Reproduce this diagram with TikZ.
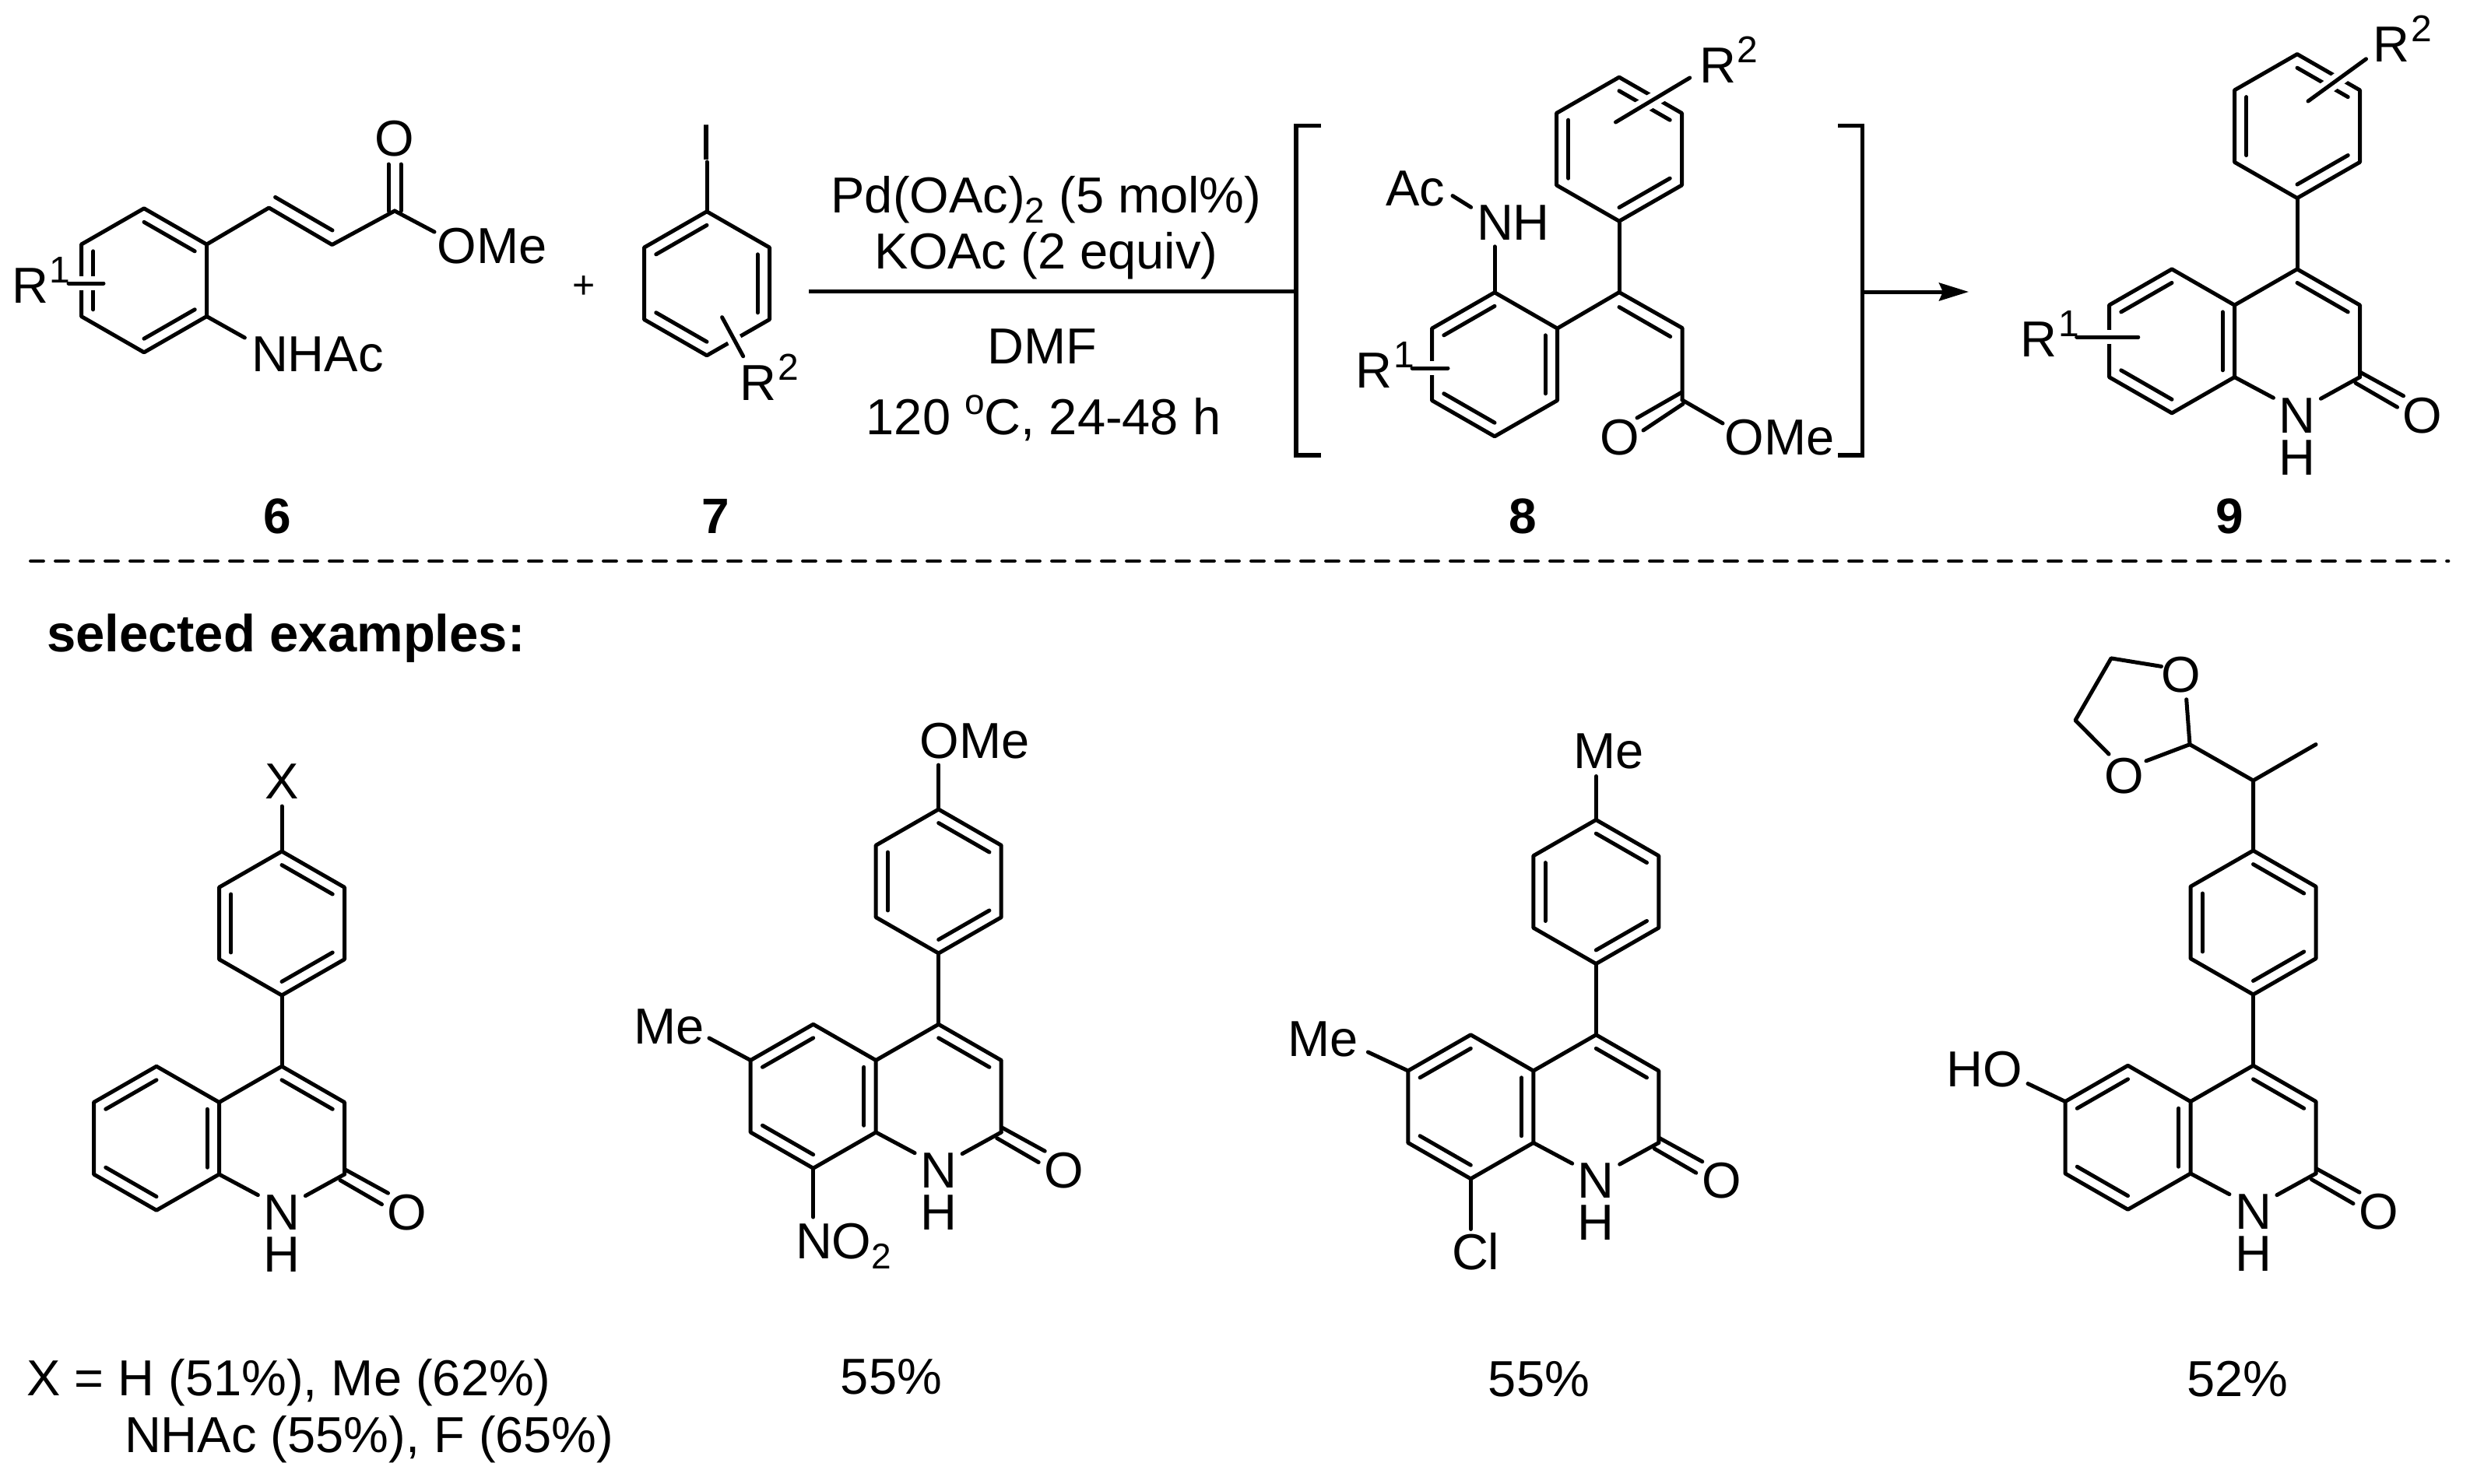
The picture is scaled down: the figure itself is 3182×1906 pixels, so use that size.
\documentclass[tikz,border=0pt]{standalone}
\usepackage{fontspec}
\setmainfont{Liberation Sans}
\usetikzlibrary{calc,arrows.meta}
\tikzset{
  bondl/.style={draw=black,line width=5pt,line cap=round,line join=round},
  halo/.style={draw=white,line width=18pt,line cap=butt},
  lab/.style={inner sep=0pt,outer sep=0pt,font=\fontsize{65}{65}\selectfont,text=black},
  labw/.style={lab,anchor=base west},
  labc/.style={lab,anchor=base},
  numb/.style={lab,anchor=base,font=\fontsize{64}{64}\selectfont\bfseries},
  sepdash/.style={draw=black,line width=4.8pt,line cap=round,dash pattern=on 16pt off 16pt},
  brk/.style={draw=black,line width=5.5pt,line cap=butt,line join=miter},
  rxn/.style={draw=black,line width=5pt}
}
\newcommand\supn[1]{\kern2pt\raisebox{26pt}{\fontsize{48}{48}\selectfont #1}}
\newcommand\subn[1]{\raisebox{-13pt}{\fontsize{46}{46}\selectfont #1}}
\newcommand\atw[4]{\node[labw] (#1) at (#2,#3) {#4};}
\newcommand\atc[4]{\node[labc] (#1) at (#2,#3) {#4};}
% hexagon vertices: T UR LR B LL UL, centre O
\newcommand\hexat[3]{%
  \coordinate (#1O) at (#2,#3);
  \coordinate (#1T) at ($(#1O)+(0,-92.5)$);
  \coordinate (#1UR) at ($(#1O)+(80.5,-46.25)$);
  \coordinate (#1LR) at ($(#1O)+(80.5,46.25)$);
  \coordinate (#1B) at ($(#1O)+(0,92.5)$);
  \coordinate (#1LL) at ($(#1O)+(-80.5,46.25)$);
  \coordinate (#1UL) at ($(#1O)+(-80.5,-46.25)$);}
\newcommand\hexdraw[1]{\draw[bondl] (#1T) -- (#1UR) -- (#1LR) -- (#1B) -- (#1LL) -- (#1UL) -- cycle;}
\newcommand\inr[3]{\draw[bondl] ($(#2)!.19!(#1O)$) -- ($(#3)!.19!(#1O)$);}
% aryl-quinolinone, C4 at (x,y)
\newcommand\quinol[3]{%
  \hexat{#1p}{#2}{#3-184.5}
  \hexat{#1a}{#2}{#3+91.75}
  \hexat{#1b}{#2-161}{#3+91.75}
  \hexdraw{#1p}\hexdraw{#1b}
  \inr{#1p}{#1pT}{#1pUR}\inr{#1p}{#1pUL}{#1pLL}\inr{#1p}{#1pLR}{#1pB}
  \inr{#1b}{#1bT}{#1bUL}\inr{#1b}{#1bLL}{#1bB}\inr{#1b}{#1bUR}{#1bLR}
  \inr{#1a}{#1aT}{#1aUR}
  \draw[bondl] (#1pB) -- (#1aT);
  \draw[bondl] (#1aUL) -- (#1aT) -- (#1aUR) -- (#1aLR);
  \coordinate (#1Ne) at ($(#1aT)+(-30.6,165.4)$);
  \coordinate (#1Nf) at ($(#1aT)+(30.4,166.4)$);
  \draw[bondl] (#1aLL) -- (#1Ne);
  \draw[bondl] (#1aLR) -- (#1Nf);
  \draw[bondl] ($(#1aLR)+(1,-6)$) -- ($(#1aLR)+(56,24.2)$);
  \draw[bondl] ($(#1aLR)+(-5.5,7.6)$) -- ($(#1aLR)+(48,38.6)$);
  \atc{#1N}{#2}{#3+209.4}{N}
  \atc{#1H}{#2}{#3+263.4}{H}
  \atc{#1Ox}{#2+161}{#3+209.4}{O}
}
\begin{document}
\begin{tikzpicture}[x=1pt,y=-1pt]
\useasboundingbox (0,0) rectangle (3182,1906);
\fill[white] (0,0) rectangle (3182,1906);

%% compound 6
\hexat{f}{185}{360.3}
\hexdraw{f}
\inr{f}{fT}{fUR}\inr{f}{fUL}{fLL}\inr{f}{fLR}{fB}
\coordinate (fa) at (88,364); \coordinate (fb) at (133,364);
\draw[halo] (fa) -- (fb);
\draw[bondl] (fa) -- (fb);
\coordinate (fC1) at (345.5,267); \coordinate (fC2) at (426.6,314.5); \coordinate (fC3) at (507,271);
\draw[bondl] (fUR) -- (fC1) -- (fC2) -- (fC3);
\draw[bondl] (353.6,253.4) -- (427,296);
\coordinate (fOe) at (507,211);
\draw[bondl] ($(fC3)+(-8,0)$) -- ($(fOe)+(-8,0)$);
\draw[bondl] ($(fC3)+(8,0)$) -- ($(fOe)+(8,0)$);
\coordinate (fMe) at (558,298);
\draw[bondl] (fC3) -- (fMe);
\coordinate (fNe) at (314.4,434);
\draw[bondl] (fLR) -- (fNe);
\atc{fO}{507}{200}{O}
\atw{fOMe}{561.6}{338.5}{OMe}
\atw{fNH}{323}{477.5}{NHAc}
\atw{fR}{15}{389}{R\supn{1}}
\node[numb] (n6) at (356,685) {6};

%% plus
\node[lab,anchor=center,font=\fontsize{50}{50}\selectfont] (plus) at (750.5,368.7) {+};

%% compound 7
\hexat{s}{908}{364.3}
\hexdraw{s}
\inr{s}{sT}{sUL}\inr{s}{sUR}{sLR}\inr{s}{sLL}{sB}
\coordinate (sa) at (927.6,407.7); \coordinate (sb) at (954.7,457.8);
\draw[halo] (sa) -- (sb);
\draw[bondl] (sa) -- (sb);
\coordinate (sIe) at (908,208);
\draw[bondl] (sT) -- (sIe);
\atc{sI}{908}{205}{I}
\atw{sR}{950.7}{514}{R\supn{2}}
\node[numb] (n7) at (919.6,685) {7};

%% conditions
\coordinate (ra) at (1039,374); \coordinate (rb) at (1665,374);
\draw[rxn] (ra) -- (rb);
\atc{c1}{1344}{273}{Pd(OAc)\subn{2} (5 mol\%)}
\atc{c2}{1344}{345}{KOAc (2 equiv)}
\atc{c3}{1339}{467.4}{DMF}
\atc{c4}{1340.6}{558}{120 \raisebox{26pt}{\fontsize{46}{46}\selectfont o}C, 24-48 h}

%% brackets
\coordinate (bl1) at (1697,161.6); \coordinate (bl2) at (1665,161.6);
\coordinate (bl3) at (1665,585); \coordinate (bl4) at (1697,585);
\draw[brk] (bl1) -- (bl2) -- (bl3) -- (bl4);
\coordinate (br1) at (2361,161.6); \coordinate (br2) at (2392.5,161.6);
\coordinate (br3) at (2392.5,585); \coordinate (br4) at (2361,585);
\draw[brk] (br1) -- (br2) -- (br3) -- (br4);
\coordinate (aa) at (2392.5,375); \coordinate (ab) at (2529,375);
\draw[rxn,-{Stealth[length=38pt,width=23pt,inset=5pt]}] (aa) -- (ab);

%% compound 8
\hexat{u}{2080}{191.7}
\hexat{l}{1920}{468.3}
\hexdraw{u}\hexdraw{l}
\inr{u}{uT}{uUR}\inr{u}{uUL}{uLL}\inr{u}{uLR}{uB}
\inr{l}{lT}{lUL}\inr{l}{lUR}{lLR}\inr{l}{lLL}{lB}
\coordinate (ua) at (2170.7,100); \coordinate (ub) at (2075.5,157);
\draw[halo] (ua) -- (ub);
\draw[bondl] (ua) -- (ub);
\coordinate (la) at (1814,473); \coordinate (lb) at (1860,473);
\draw[halo] (la) -- (lb);
\draw[bondl] (la) -- (lb);
\coordinate (eV) at (2080,375.6); \coordinate (eCH) at (2161,421.5); \coordinate (eCO) at (2161,514);
\draw[bondl] (uB) -- (eV);
\draw[bondl] (lUR) -- (eV) -- (eCH) -- (eCO);
\draw[bondl] ($(eV)+(0,19)$) -- ($(eCH)+(-15.3,11)$);
\coordinate (eO1) at (2103,537); \coordinate (eO2) at (2111,553);
\draw[bondl] (2160.6,504) -- (eO1);
\draw[bondl] (2162,519) -- (eO2);
\coordinate (eMe) at (2213,544);
\draw[bondl] (eCO) -- (eMe);
\coordinate (eNe) at (1920,316.8);
\draw[bondl] (lT) -- (eNe);
\coordinate (eA1) at (1866,251.6); \coordinate (eA2) at (1889.6,266.3);
\draw[bondl] (eA1) -- (eA2);
\atw{eNH}{1897}{308.5}{NH}
\atw{eAc}{1780}{264}{Ac}
\atc{eO}{2081}{584}{O}
\atw{eOMe}{2215.7}{584}{OMe}
\atw{eR1}{1741.6}{498}{R\supn{1}}
\atw{eR2}{2183}{106.5}{R\supn{2}}
\node[numb] (n8) at (1956,685) {8};

%% compound 9
\quinol{m}{2951}{346.6}
\coordinate (ma) at (3039.5,75.8); \coordinate (mb) at (2965,130);
\draw[halo] (ma) -- (mb);
\draw[bondl] (ma) -- (mb);
\coordinate (mc) at (2667.7,433); \coordinate (md) at (2746.8,433);
\draw[halo] (mc) -- (md);
\draw[bondl] (mc) -- (md);
\atw{mR1}{2595.3}{458}{R\supn{1}}
\atw{mR2}{3048.3}{79}{R\supn{2}}
\node[numb] (n9) at (2864,685) {9};

%% separator
\coordinate (da) at (39.5,721); \coordinate (db) at (3145,721);
\draw[sepdash] (da) -- (db);
\node[labw,font=\fontsize{67}{67}\selectfont\bfseries] (sel) at (60,837) {selected examples:};

%% example A
\quinol{A}{362}{1371}
\coordinate (Ax) at (362,1036);
\draw[bondl] (ApT) -- (Ax);
\atc{AX}{362}{1026}{X}
\atw{Ay1}{34}{1793.5}{X = H (51\%), Me (62\%)}
\atw{Ay2}{160}{1866.6}{NHAc (55\%), F (65\%)}

%% example B
\quinol{B}{1205.7}{1317}
\coordinate (Bx) at (1205.7,983);
\draw[bondl] (BpT) -- (Bx);
\coordinate (Bm) at (911,1334);
\draw[bondl] (BbUL) -- (Bm);
\coordinate (Bn) at (1044.7,1564);
\draw[bondl] (BbB) -- (Bn);
\atw{BOMe}{1181.7}{974}{OMe}
\atw{BMe}{814}{1341}{Me}
\atw{BNO}{1022}{1617}{NO\subn{2}}
\atc{By}{1145}{1791.6}{55\%}

%% example C
\quinol{C}{2050.3}{1330.5}
\coordinate (Cx) at (2050.3,997.5);
\draw[bondl] (CpT) -- (Cx);
\coordinate (Cm) at (1757.4,1352);
\draw[bondl] (CbUL) -- (Cm);
\coordinate (Cn) at (1889.3,1579.5);
\draw[bondl] (CbB) -- (Cn);
\atw{CMe1}{2021.6}{987.6}{Me}
\atw{CMe2}{1654.8}{1357}{Me}
\atw{CCl}{1865}{1631}{Cl}
\atc{Cy}{1977}{1794.6}{55\%}

%% example D
\quinol{D}{2894.5}{1370}
\coordinate (Dh) at (2605,1392.5);
\draw[bondl] (DbUL) -- (Dh);
\coordinate (DCH) at (2894.5,1003); \coordinate (DMe) at (2975,956.6); \coordinate (DAc) at (2813,956.6);
\coordinate (Do1) at (2808.7,898.8); \coordinate (Do2) at (2757,977.8);
\coordinate (Dc1) at (2776.5,856.4); \coordinate (Dc2) at (2712,845.9);
\coordinate (Dc3) at (2666,925.6); \coordinate (Dc4) at (2709,969);
\draw[bondl] (DpT) -- (DCH) -- (DMe);
\draw[bondl] (DCH) -- (DAc) -- (Do1);
\draw[bondl] (DAc) -- (Do2);
\draw[bondl] (Dc1) -- (Dc2) -- (Dc3) -- (Dc4);
\atc{DO1}{2802}{889}{O}
\atc{DO2}{2728.3}{1019}{O}
\atw{DHO}{2500.5}{1396}{HO}
\atc{Dy}{2874.6}{1794.6}{52\%}
\end{tikzpicture}
\end{document}
